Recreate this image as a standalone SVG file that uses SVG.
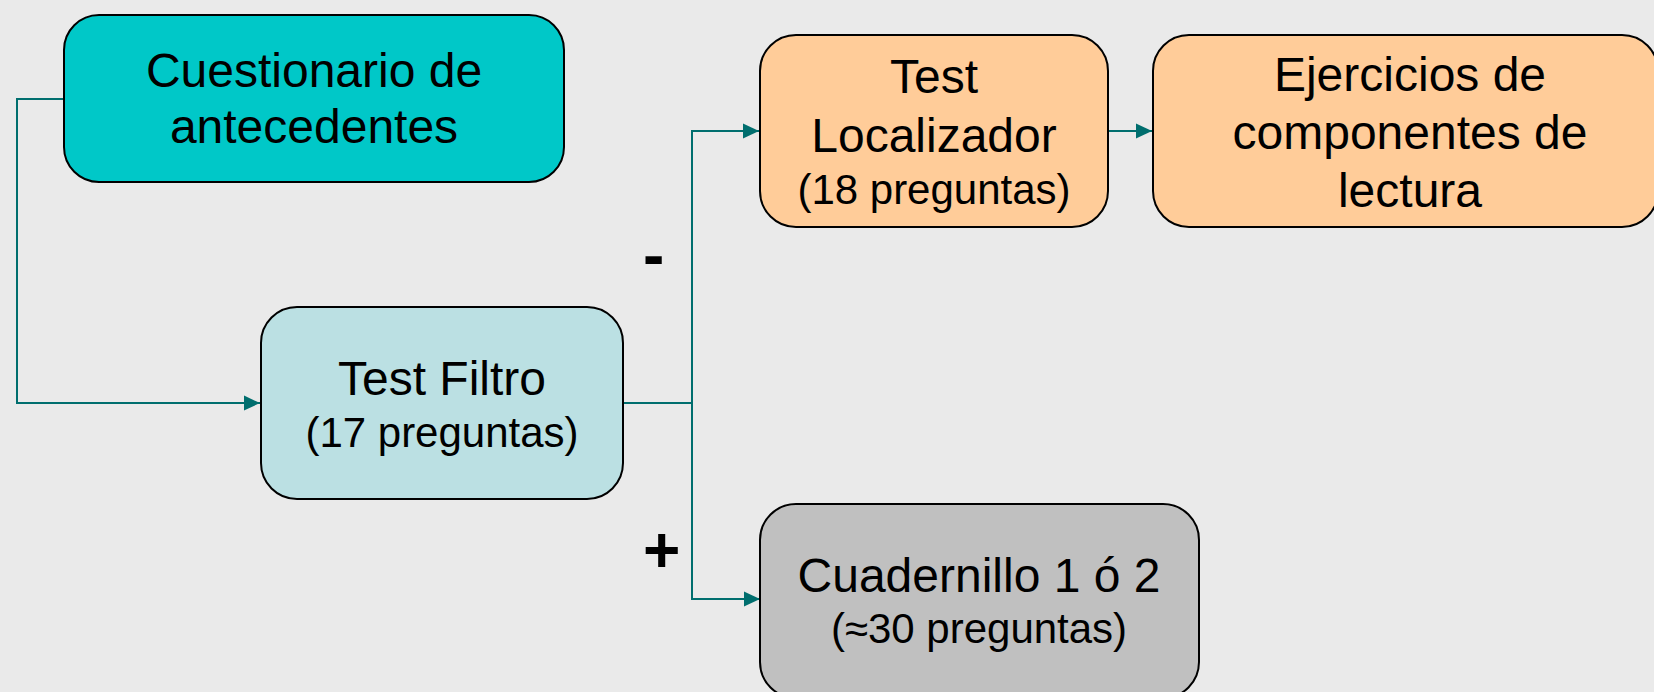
<svg xmlns="http://www.w3.org/2000/svg" width="1654" height="692" viewBox="0 0 1654 692">
<style>
.box{stroke:#000;stroke-width:2}
.t{font-family:"Liberation Sans",Arial,sans-serif;fill:#000;text-anchor:middle}
.big{font-size:48px}
.small{font-size:42px}
.sign{font-family:"Liberation Sans",Arial,sans-serif;font-weight:bold;font-size:64px;fill:#000}
.conn{fill:none;stroke:#006E6E;stroke-width:2}
</style>
<defs>
<marker id="ah" markerUnits="userSpaceOnUse" markerWidth="16" markerHeight="16" refX="16" refY="8" orient="auto">
<path d="M0,0.5 L16,8 L0,15.5 z" fill="#006E6E"/>
</marker>
</defs>
<rect width="1654" height="692" fill="#EAEAEA"/>
<g id="connectors">
<path class="conn" d="M64,99 H17 V403 H260" marker-end="url(#ah)"/>
<path class="conn" d="M624,403 H692"/>
<path class="conn" d="M692,599 V131 H759" marker-end="url(#ah)"/>
<path class="conn" d="M692,403 V599 H760" marker-end="url(#ah)"/>
<path class="conn" d="M1108,131 H1152" marker-end="url(#ah)"/>
</g>
<g id="node-cuestionario">
<rect class="box" x="64" y="15" width="500" height="167" rx="35" ry="35" fill="#00C8C8"/>
<text class="t big" x="314" y="87">Cuestionario de</text>
<text class="t big" x="314" y="143">antecedentes</text>
</g>
<g id="node-filtro">
<rect class="box" x="261" y="307" width="362" height="192" rx="36" ry="36" fill="#BBE0E3"/>
<text class="t big" x="442" y="395">Test Filtro</text>
<text class="t small" x="442" y="447">(17 preguntas)</text>
</g>
<g id="node-localizador">
<rect class="box" x="760" y="35" width="348" height="192" rx="36" ry="36" fill="#FFCC99"/>
<text class="t big" x="934" y="93">Test</text>
<text class="t big" x="934" y="152">Localizador</text>
<text class="t small" x="934" y="204">(18 preguntas)</text>
</g>
<g id="node-ejercicios">
<rect class="box" x="1153" y="35" width="505" height="192" rx="36" ry="36" fill="#FFCC99"/>
<text class="t big" x="1410" y="91">Ejercicios de</text>
<text class="t big" x="1410" y="149">componentes de</text>
<text class="t big" x="1410" y="207">lectura</text>
</g>
<g id="node-cuadernillo">
<rect class="box" x="760" y="504" width="439" height="194" rx="36" ry="36" fill="#C0C0C0"/>
<text class="t big" x="979" y="592">Cuadernillo 1 ó 2</text>
<text class="t small" x="979" y="643">(≈30 preguntas)</text>
</g>
<g id="labels">
<text class="sign" x="643" y="277">-</text>
<text class="sign" x="643" y="572">+</text>
</g>
</svg>
